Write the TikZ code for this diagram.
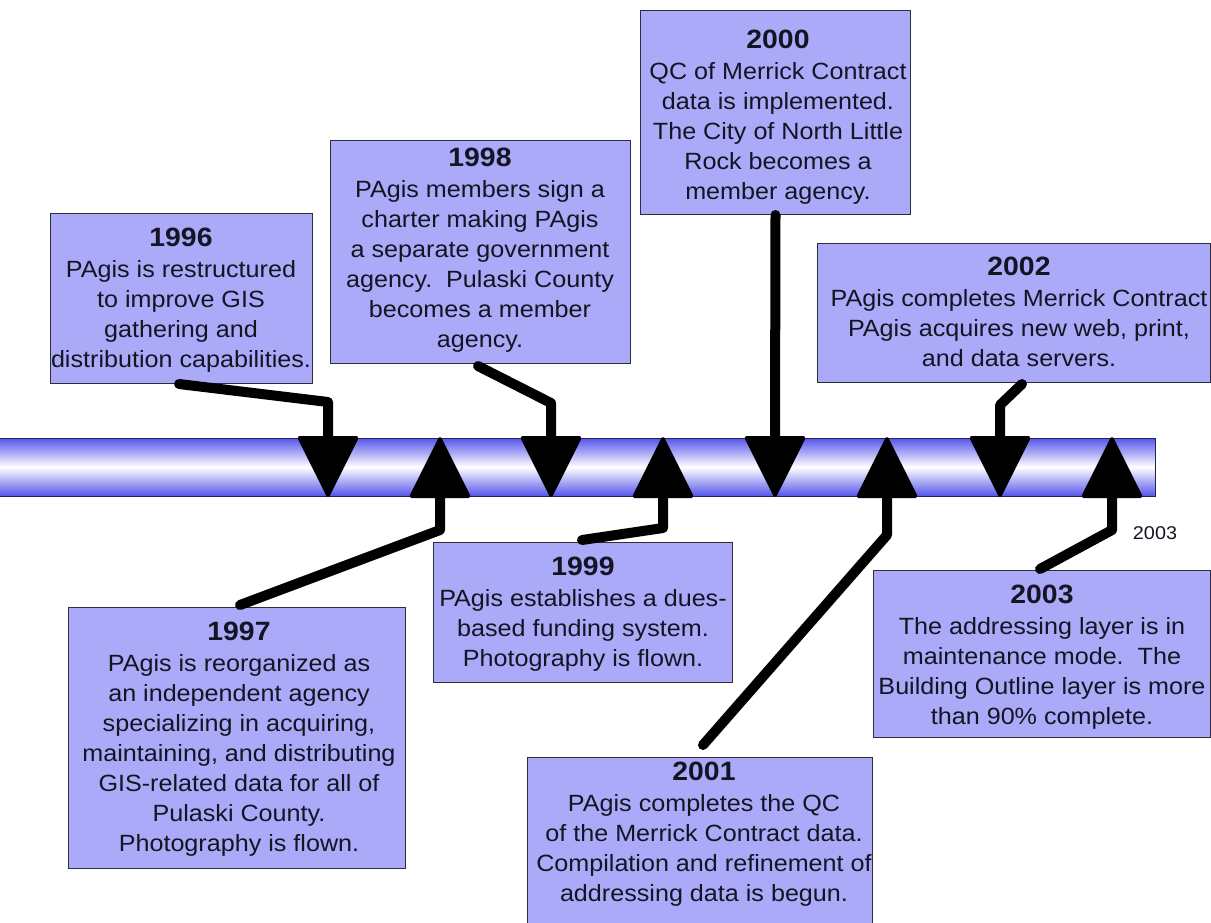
\documentclass[tikz,border=0pt]{standalone}
\usepackage{fontspec}
\setmainfont{Liberation Sans}[FakeStretch=1.07]
\usetikzlibrary{calc}
\definecolor{boxfill}{RGB}{170,170,248}
\definecolor{boxline}{RGB}{45,45,60}
\definecolor{barblue}{RGB}{85,85,235}
\definecolor{barline}{RGB}{35,35,90}
\definecolor{txtcol}{RGB}{20,20,35}
\newcommand{\yr}{\fontsize{26.5}{30}\selectfont\bfseries}
\tikzset{
  box/.style={draw=boxline, line width=1pt, fill=boxfill, rectangle, inner sep=0},
  txt/.style={inner sep=0, align=center, text=txtcol, font=\fontsize{23.5}{30}\selectfont},
  conn/.style={line width=10pt, draw=black, line cap=round, line join=round},
  tri/.style={fill=black, draw=black, line width=2pt, line join=round, rounded corners=1.5pt},
}
\begin{document}
\begin{tikzpicture}[x=1pt,y=-1pt]
\useasboundingbox (0,0) rectangle (1211,922);
% timeline bar
\shade[top color=barblue, bottom color=barblue, middle color=white] (0,438) rectangle (1155,496);
\draw[barline, line width=1pt] (0,438) -- (1155,438) -- (1155,496) -- (0,496);

% boxes
\node[box, minimum width=262, minimum height=170, anchor=north west] (b96) at (50,213) {};
\node[box, minimum width=300, minimum height=223, anchor=north west] (b98) at (330,140) {};
\node[box, minimum width=270, minimum height=204, anchor=north west] (b00) at (640,10) {};
\node[box, minimum width=393, minimum height=139, anchor=north west] (b02) at (817,243) {};
\node[box, minimum width=337, minimum height=261, anchor=north west] (b97) at (68,607) {};
\node[box, minimum width=299, minimum height=140, anchor=north west] (b99) at (433,542) {};
\node[box, minimum width=345, minimum height=170, anchor=north west] (b01) at (527,757) {};
\node[box, minimum width=337, minimum height=167, anchor=north west] (b03) at (873,570) {};

% texts
\node[txt, anchor=north] (x96) at (181,228) {{\yr 1996}\\[1pt]PAgis is restructured\\to improve GIS\\gathering and\\distribution capabilities.};
\node[txt, anchor=north] (x98) at (480,148) {{\yr 1998}\\[1pt]PAgis members sign a\\charter making PAgis\\a separate government\\agency.\ \ Pulaski County\\becomes a member\\agency.};
\node[txt, anchor=north] (x00) at (778,30) {{\yr 2000}\\[1pt]QC of Merrick Contract\\data is implemented.\\The City of North Little\\Rock becomes a\\member agency.};
\node[txt, anchor=north] (x02) at (1019,257) {{\yr 2002}\\[1pt]PAgis completes Merrick Contract\\PAgis acquires new web, print,\\and data servers.};
\node[txt, anchor=north] (x97) at (239,622) {{\yr 1997}\\[1pt]PAgis is reorganized as\\an independent agency\\specializing in acquiring,\\maintaining, and distributing\\GIS-related data for all of\\Pulaski County.\\Photography is flown.};
\node[txt, anchor=north] (x99) at (583,557) {{\yr 1999}\\[1pt]PAgis establishes a dues-\\based funding system.\\Photography is flown.};
\node[txt, anchor=north] (x01) at (704,762) {{\yr 2001}\\[1pt]PAgis completes the QC\\of the Merrick Contract data.\\Compilation and refinement of\\addressing data is begun.};
\node[txt, anchor=north] (x03) at (1042,585) {{\yr 2003}\\[1pt]The addressing layer is in\\maintenance mode.\ \ The\\Building Outline layer is more\\than 90\% complete.};

% triangle markers (down = above the bar, up = below the bar)
\coordinate (t96) at (328,436);
\coordinate (t98) at (551,436);
\coordinate (t00) at (775,436);
\coordinate (t02) at (1000,436);
\coordinate (t97) at (440,498);
\coordinate (t99) at (663,498);
\coordinate (t01) at (887,498);
\coordinate (t03) at (1112,498);
\foreach \t in {t96,t98,t00,t02}{
  \filldraw[tri] ($(\t)+(-30,1)$) -- ($(\t)+(30,1)$) -- ($(\t)+(0,61)$) -- cycle;
}
\foreach \t in {t97,t99,t01,t03}{
  \filldraw[tri] ($(\t)+(-30,-1)$) -- ($(\t)+(30,-1)$) -- ($(\t)+(0,-61)$) -- cycle;
}

% connectors
\draw[conn] ($(b96.south west)+(129,0)$) -- ($(t96)+(0,-34)$) -- ($(t96)+(0,2)$);
\draw[conn] ($(b98.south west)+(148,2)$) -- ($(t98)+(0,-33)$) -- ($(t98)+(0,2)$);
\draw[conn] (b00.south) -- ($(t00)+(0,2)$);
\draw[conn] ($(b02.south west)+(205,1)$) -- ($(t02)+(0,-31)$) -- ($(t02)+(0,2)$);
\draw[conn] ($(t97)+(0,-2)$) -- ($(t97)+(0,32)$) -- ($(b97.north west)+(172,-2)$);
\draw[conn] ($(t99)+(0,-2)$) -- ($(t99)+(0,30)$) -- ($(b99.north west)+(149,-2)$);
\draw[conn] ($(t01)+(0,-2)$) -- ($(t01)+(0,37)$) -- ($(b01.north west)+(176,-12)$);
\draw[conn] ($(t03)+(0,-2)$) -- ($(t03)+(0,32)$) -- ($(b03.north west)+(167,-1)$);

% small label
\node[inner sep=0, text=txtcol, font=\fontsize{18.5}{22}\selectfont] (l03) at (1155,533) {2003};
\end{tikzpicture}
\end{document}
